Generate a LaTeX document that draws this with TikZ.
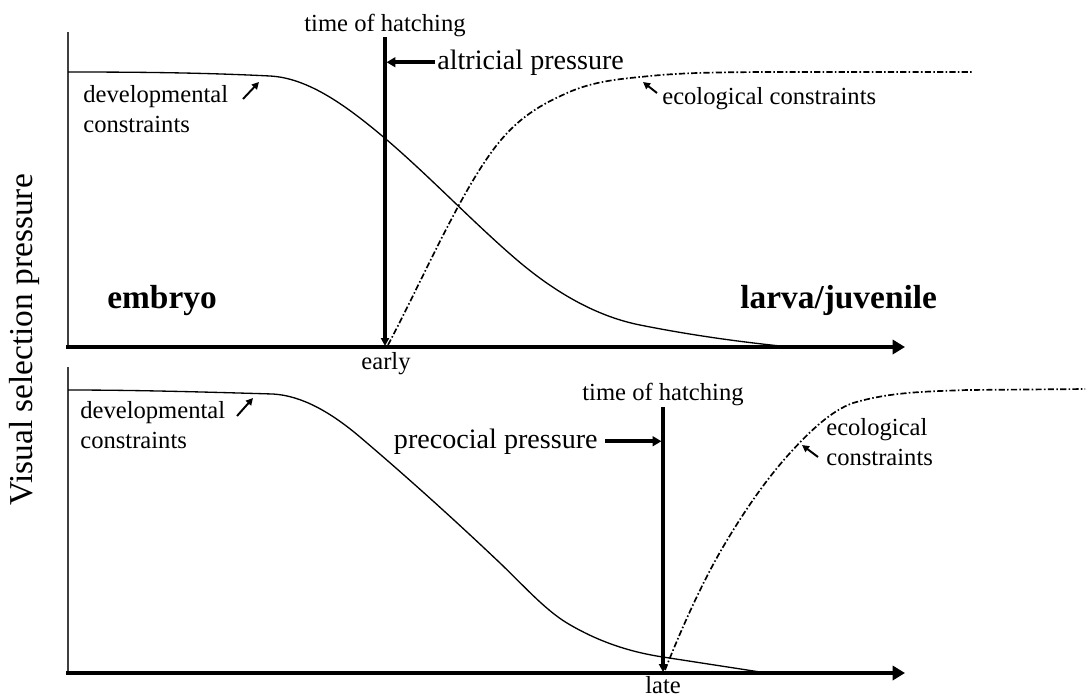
\documentclass[tikz,border=0pt]{standalone}
\usepackage{fontspec}
\setmainfont{Liberation Serif}
\usetikzlibrary{arrows.meta,positioning}

\tikzset{
  axisline/.style={line width=2.3pt,-{Triangle[length=7pt,width=8pt]}},
  yline/.style={line width=0.9pt,black!75},
  hatchline/.style={line width=1.9pt,-{Triangle[length=4.5pt,width=4.5pt]}},
  pressarrow/.style={line width=2.2pt,-{Triangle[length=5pt,width=5.5pt]}},
  notearrow/.style={line width=1.1pt,-{Triangle[length=4pt,width=4pt]}},
  devcurve/.style={line width=0.75pt},
  ecocurve/.style={line width=0.95pt,dash pattern=on 3.5pt off 1.3pt on 0.9pt off 1.3pt},
  smalltext/.style={font=\fontsize{14}{17}\selectfont,inner sep=0pt,align=left},
  midtext/.style={font=\fontsize{16}{18}\selectfont,inner sep=0pt},
  stagetext/.style={font=\fontsize{19}{21}\selectfont\bfseries,inner sep=0pt}
}

\begin{document}
\begin{tikzpicture}[x=0.02cm,y=-0.02cm]
  \useasboundingbox (0,0) rectangle (1086,698);
  % axis label
  \node[midtext,font=\fontsize{19}{21}\selectfont,rotate=90] (ylab) at (24,340) {Visual selection pressure};

  % ---- top panel: altricial ----
  \coordinate (o1) at (66,347);
  \coordinate (x1) at (905,347);
  \coordinate (y1) at (68,32);
  \draw[yline] (y1) -- (68,347);
  \draw[axisline] (o1) -- (x1);
  % curves
  \draw[devcurve] (68,72) .. controls (135,72) and (203,72.6) .. (270,76)
    .. controls (309,78) and (348,106.9) .. (387,140)
    .. controls (430,176.8) and (474,223.2) .. (517,260)
    .. controls (558,294.9) and (599,316.8) .. (640,325)
    .. controls (690,335) and (740,342) .. (790,347);
  \draw[ecocurve] (388,345) .. controls (423,278.5) and (458,197.3) .. (493,150)
    .. controls (517.7,116.7) and (542.3,104.1) .. (567,93)
    .. controls (594.7,80.5) and (622.3,78.8) .. (650,76)
    .. controls (686.7,72.3) and (723.3,72.4) .. (760,72) -- (973,72);
  % hatching
  \node[smalltext,anchor=base] (th1) at (385,31) {time of hatching};
  \coordinate (h1top) at (385,37);
  \coordinate (h1bot) at (385,346);
  \draw[hatchline] (h1top) -- (h1bot);
  \node[smalltext,anchor=base] (early) at (386,369) {early};
  \node[midtext,anchor=base west] (alt) at (437,69) {altricial pressure};
  \draw[pressarrow,shorten <=1pt,shorten >=0.9pt] (alt.west) -- (alt.west -| h1top);
  % labels
  \node[smalltext,anchor=north west] (dev1) at (83,85) {developmental\\constraints};
  \coordinate (devA1) at (243,99);
  \coordinate (devB1) at (259,82);
  \draw[notearrow] (devA1) -- (devB1);
  \node[smalltext,anchor=base west] (eco1) at (662,104) {ecological constraints};
  \coordinate (ecoA1) at (657,93);
  \coordinate (ecoB1) at (643,82);
  \draw[notearrow] (ecoA1) -- (ecoB1);
  \node[stagetext,anchor=base west] (emb) at (107,308) {embryo};
  \node[stagetext,anchor=base west] (larv) at (740,308) {larva/juvenile};

  % ---- bottom panel: precocial ----
  \coordinate (o2) at (66,673);
  \coordinate (x2) at (905,673);
  \coordinate (y2) at (68,367);
  \draw[yline] (y2) -- (68,673);
  \draw[axisline] (o2) -- (x2);
  % curves
  \draw[devcurve] (68,390) .. controls (136,390) and (205,392) .. (273,394)
    .. controls (302,395.7) and (331,412.4) .. (360,437)
    .. controls (406.7,476.7) and (453.3,518.7) .. (500,563)
    .. controls (522.3,584.2) and (544.7,609.6) .. (567,623)
    .. controls (599,642.2) and (631,652.2) .. (663,657)
    .. controls (695,662) and (728,667) .. (760,672);
  \draw[ecocurve] (665,670) .. controls (684.3,621.7) and (703.7,579.8) .. (723,547)
    .. controls (745.3,509.1) and (767.7,477.5) .. (790,453)
    .. controls (811,429.9) and (832,410.4) .. (853,403)
    .. controls (891,391.6) and (929,391.5) .. (967,390) -- (1085,389);
  % hatching
  \node[smalltext,anchor=base] (th2) at (663,400) {time of hatching};
  \coordinate (h2top) at (663,407);
  \coordinate (h2bot) at (663,672);
  \draw[hatchline] (h2top) -- (h2bot);
  \node[smalltext,anchor=base] (late) at (663,693) {late};
  \node[midtext,anchor=base east] (pre) at (598,448) {precocial pressure};
  \draw[pressarrow,shorten <=4pt,shorten >=0.9pt] (pre.east) -- (pre.east -| h2top);
  % labels
  \node[smalltext,anchor=north west] (dev2) at (80,401) {developmental\\constraints};
  \coordinate (devA2) at (237,416);
  \coordinate (devB2) at (253,398);
  \draw[notearrow] (devA2) -- (devB2);
  \node[smalltext,anchor=north west] (eco2) at (826,418) {ecological\\constraints};
  \coordinate (ecoA2) at (818,457);
  \coordinate (ecoB2) at (802,445);
  \draw[notearrow] (ecoA2) -- (ecoB2);
\end{tikzpicture}
\end{document}
